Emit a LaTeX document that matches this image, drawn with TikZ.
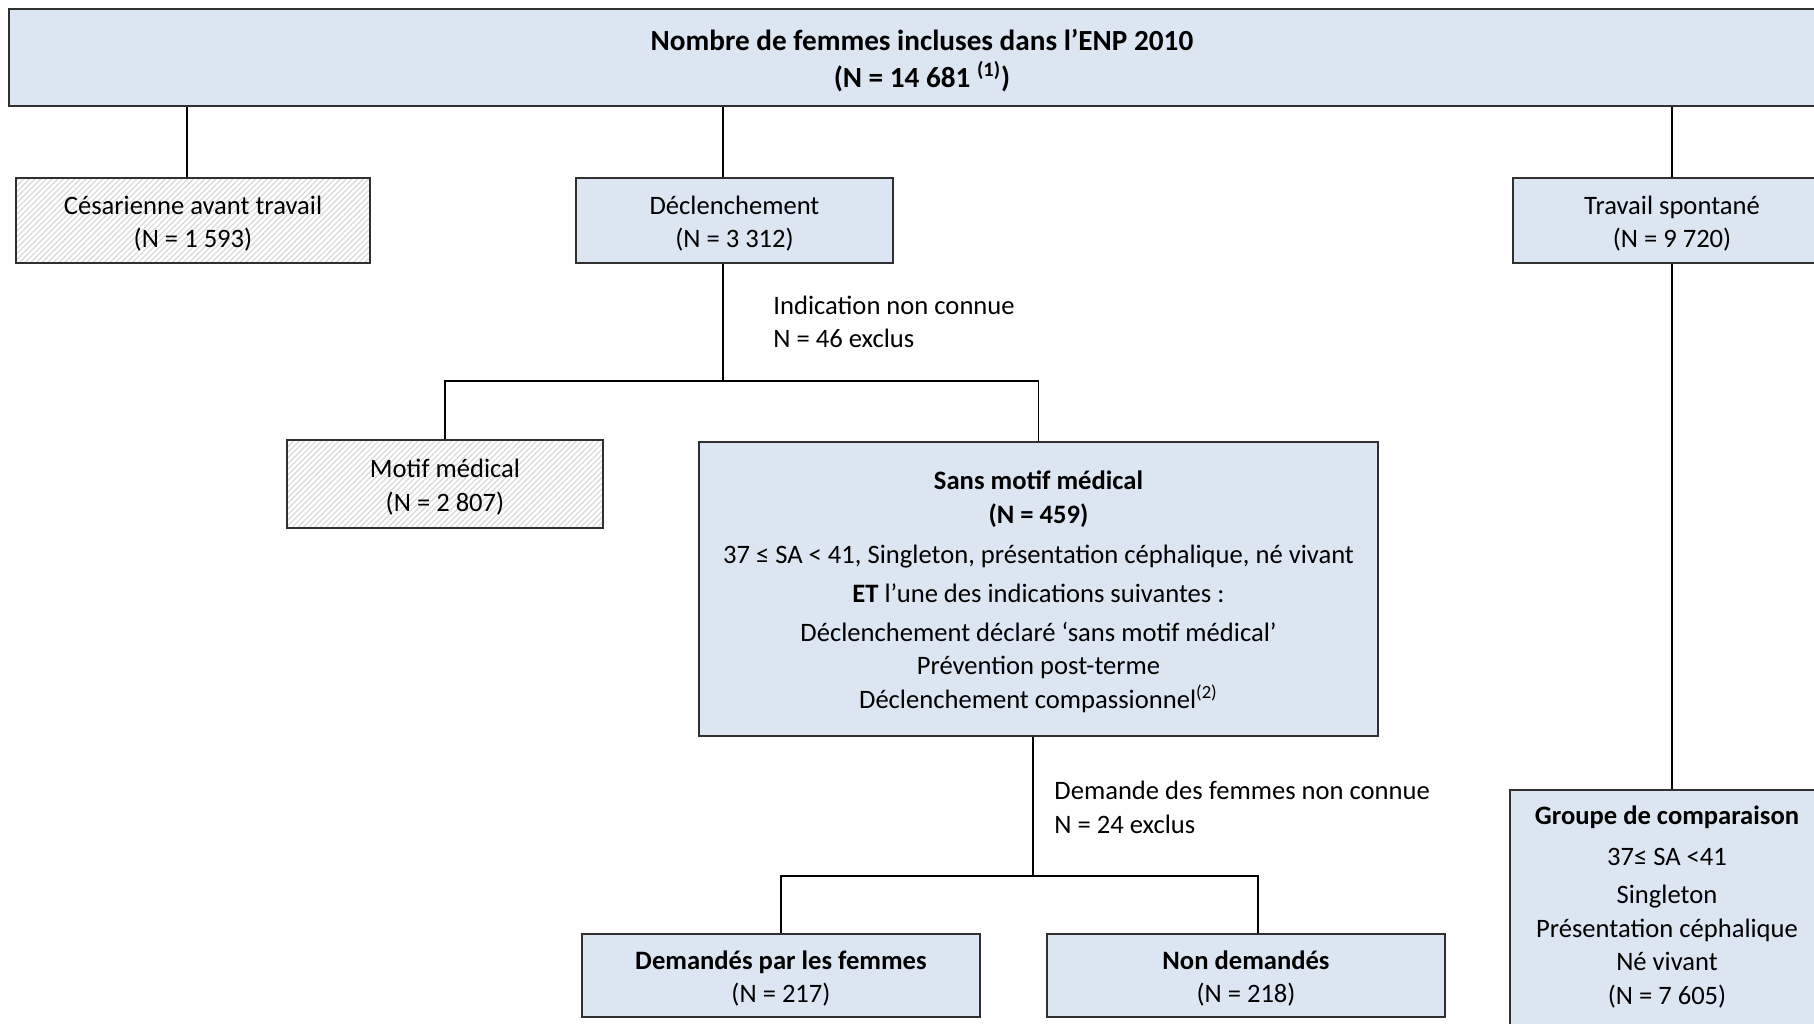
\documentclass[tikz,border=0pt]{standalone}
\usepackage{fontspec}
\setmainfont{Carlito}
\usetikzlibrary{patterns.meta}
\definecolor{boxblue}{HTML}{DCE6F2}
\definecolor{boxline}{HTML}{303030}
\newcommand{\lowered}[1]{\raisebox{-1.8pt}[\height][\depth]{\begin{tabular}{@{}c@{}}#1\end{tabular}}}
\tikzset{
  box/.style={draw=boxline, line width=0.75pt, align=center, inner sep=0pt, font=\fontsize{13.3}{16.8}\selectfont},
  bluebox/.style={box, fill=boxblue},
  hatchbox/.style={box, preaction={fill=white}, pattern={Lines[angle=45,distance=2pt,line width=0.6pt]}, pattern color=gray!30},
  conn/.style={draw=black, line width=0.6pt},
  lbl/.style={align=left, anchor=west, inner sep=0pt, font=\fontsize{13.3}{16.8}\selectfont}
}
\begin{document}
\begin{tikzpicture}[x=0.5pt, y=-0.5pt]
\useasboundingbox (0,0) rectangle (1814,1023);
\clip (0,0) rectangle (1814,1023);
\fill[white] (0,0) rectangle (1814,1023);

\node[bluebox, minimum width=913pt, minimum height=48.5pt, font=\fontsize{14.6}{18.5}\selectfont] (top) at (922,57.5)
  {\lowered{\textbf{Nombre de femmes incluses dans l’ENP 2010}\\\textbf{(N = 14 681 \textsuperscript{(1)})}}};

\node[hatchbox, minimum width=177pt, minimum height=42.5pt] (cesa) at (193,220.5)
  {\lowered{Césarienne avant travail\\(N = 1 593)}};
\node[bluebox, minimum width=158.5pt, minimum height=42.5pt] (decl) at (734.5,220.5)
  {\lowered{Déclenchement\\(N = 3 312)}};
\node[bluebox, minimum width=159pt, minimum height=42.5pt] (trav) at (1672,220.5)
  {\lowered{Travail spontané\\(N = 9 720)}};

\node[hatchbox, minimum width=158pt, minimum height=44pt] (motif) at (445,484)
  {\lowered{Motif médical\\(N = 2 807)}};
\node[bluebox, minimum width=339.5pt, minimum height=147pt] (sans) at (1038.5,589)
  {\lowered{\textbf{Sans motif médical}\\\textbf{(N = 459)}\\[3.5pt]
   37 ≤ SA < 41, Singleton, présentation céphalique, né vivant\\[2.5pt]
   \textbf{ET} l’une des indications suivantes :\\[2.5pt]
   Déclenchement déclaré ‘sans motif médical’\\
   Prévention post-terme\\
   Déclenchement compassionnel\textsuperscript{(2)}}};

\node[bluebox, minimum width=199pt, minimum height=41.5pt] (dem) at (781,975.5)
  {\lowered{\textbf{Demandés par les femmes}\\(N = 217)}};
\node[bluebox, minimum width=199pt, minimum height=41.5pt] (nondem) at (1246,975.5)
  {\lowered{\textbf{Non demandés}\\(N = 218)}};

\node[bluebox, minimum width=162pt, minimum height=135pt] (groupe) at (1672,925) {};
\node[align=center, inner sep=0pt, font=\fontsize{13.3}{16.8}\selectfont] (groupetxt) at (1667,907)
  {\textbf{Groupe de comparaison}\\[3.5pt]37≤ SA <41\\[2.5pt]Singleton\\Présentation céphalique\\Né vivant\\(N = 7 605)};

\node[lbl] (ind) at (773,322) {Indication non connue\\N = 46 exclus};
\node[lbl] (dfem) at (1054,807.5) {Demande des femmes non connue\\N = 24 exclus};

% connectors
\coordinate (c1) at (187,0);
\coordinate (c2) at (723,0);
\coordinate (c3) at (1672,0);
\coordinate (h1) at (0,381);
\coordinate (c4) at (1033,0);
\coordinate (h2) at (0,876);
\coordinate (c5) at (1258,0);
\draw[conn] (top.south -| c1) -- (cesa.north -| c1);
\draw[conn] (top.south -| c2) -- (decl.north -| c2);
\draw[conn] (top.south -| c3) -- (trav.north -| c3);
\draw[conn] (trav.south -| c3) -- (groupe.north -| c3);
\draw[conn] (decl.south -| c2) -- (h1 -| c2);
\draw[conn] (motif.north) -- (h1 -| motif.north) -- (h1 -| sans.north) -- (sans.north);
\draw[conn] (sans.south -| c4) -- (h2 -| c4);
\draw[conn] (dem.north) -- (h2 -| dem.north) -- (h2 -| c5) -- (nondem.north -| c5);
\end{tikzpicture}
\end{document}
